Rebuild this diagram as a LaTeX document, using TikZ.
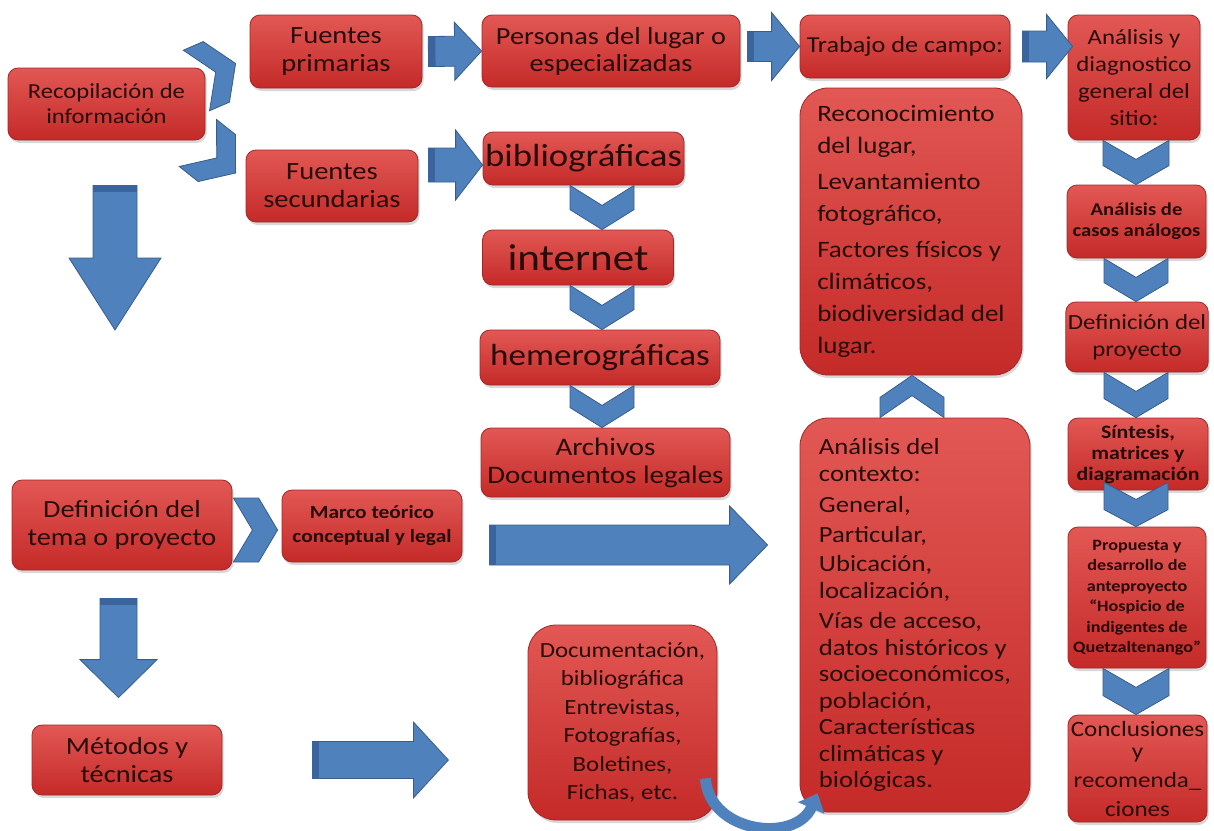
\documentclass[tikz,border=0pt]{standalone}
\usepackage{fontspec}
\setmainfont{Carlito}[FakeStretch=1.15]
\usetikzlibrary{arrows.meta,calc,shadows}

\definecolor{rojoClaro}{RGB}{226,88,84}
\definecolor{rojoOscuro}{RGB}{196,42,40}
\definecolor{bordeCaja}{RGB}{160,40,40}
\definecolor{textoCaja}{RGB}{40,12,12}
\definecolor{azulFlecha}{RGB}{79,129,189}
\definecolor{azulBorde}{RGB}{56,93,138}
\definecolor{azulSombra}{RGB}{58,100,155}

\tikzset{
  caja/.style={draw=bordeCaja, line width=0.8pt, rounded corners=10pt, top color=rojoClaro, bottom color=rojoOscuro,
    text=textoCaja, align=center, inner sep=2pt, drop shadow={shadow xshift=1.5pt, shadow yshift=-3pt, opacity=0.3}},
  cajagrande/.style={caja, rounded corners=28pt},
  flecha/.style={fill=azulFlecha, draw=azulBorde, line width=0.8pt, line join=miter}
}

\newcommand{\flechabloque}[5]{%
  \coordinate (fa) at (#1);
  \coordinate (fb) at (#2);
  \coordinate (fc) at ($(fb)!#5!(fa)$);
  \coordinate (fd) at ($(fa)!7pt!(fb)$);
  \filldraw[flecha] ($(fa)!#3!90:(fb)$) -- ($(fc)!#3!90:(fb)$) -- ($(fc)!#4!90:(fb)$) -- (fb)
    -- ($(fc)!#4!-90:(fb)$) -- ($(fc)!#3!-90:(fb)$) -- ($(fa)!#3!-90:(fb)$) -- cycle;
  \fill[azulSombra] ($(fa)!#3!90:(fb)$) -- ($(fd)!#3!90:(fb)$) -- ($(fd)!#3!-90:(fb)$) -- ($(fa)!#3!-90:(fb)$) -- cycle;
}

\newcommand{\galon}[4]{%
  \coordinate (ga) at (#1);
  \coordinate (gb) at (#2);
  \coordinate (gn) at ($(ga)!#4!(gb)$);
  \coordinate (gm) at ($(gb)!#4!(ga)$);
  \filldraw[flecha] ($(ga)!#3!90:(gb)$) -- (gn) -- ($(ga)!#3!-90:(gb)$) -- ($(gm)!#3!-90:(gb)$) -- (gb)
    -- ($(gm)!#3!90:(gb)$) -- cycle;
}

\begin{document}
\begin{tikzpicture}[x=1pt, y=-1pt, >=Stealth]
  \useasboundingbox (0,0) rectangle (1214,830);
  \fill[white] (0,0) rectangle (1214,830);

  \coordinate (ejeB) at (602,0);
  \coordinate (ejeC) at (912,0);
  \coordinate (ejeD) at (1136,0);

  \node[caja, minimum width=197pt, minimum height=72pt, font=\fontsize{21.4}{25}\selectfont] (recop) at (106.5,104) {Recopilación de\\información};
  \node[caja, minimum width=172pt, minimum height=73pt, font=\fontsize{24.8}{28}\selectfont] (fprim) at (336,51.5) {Fuentes\\primarias};
  \node[caja, minimum width=172pt, minimum height=72pt, font=\fontsize{24.8}{28}\selectfont] (fsec) at (332,186) {Fuentes\\secundarias};
  \node[caja, minimum width=258pt, minimum height=72pt, font=\fontsize{24.6}{27}\selectfont] (personas) at (611,51) {Personas del lugar o\\especializadas};
  \node[caja, minimum width=210pt, minimum height=63pt, font=\fontsize{22.8}{27}\selectfont] (trabajo) at (905,46.5) {Trabajo de campo:};
  \node[caja, minimum width=132pt, minimum height=125pt, font=\fontsize{21.6}{27}\selectfont] (diag) at (1134,77.5) {Análisis y\\diagnostico\\general del\\sitio:};
  \node[caja, minimum width=201pt, minimum height=53pt, font=\fontsize{32}{34}\selectfont] (biblio) at (583.5,158.5) {bibliográficas};
  \node[caja, minimum width=191pt, minimum height=55pt, font=\fontsize{37.5}{40}\selectfont] (internet) at (578,257.5) {internet};
  \node[caja, minimum width=240pt, minimum height=55pt, font=\fontsize{30.5}{34}\selectfont] (hemero) at (600,357.5) {hemerográficas};
  \node[caja, minimum width=249pt, minimum height=69pt, font=\fontsize{25.2}{28}\selectfont] (archivos) at (605.5,462.5) {Archivos\\Documentos legales};
  \node[cajagrande, align=left, minimum width=222pt, minimum height=287pt, font=\fontsize{23.5}{32}\selectfont] (recon) at (911,231.5)
    {Reconocimiento\\del lugar,\\[4pt]Levantamiento\\fotográfico,\\[4pt]Factores físicos y\\climáticos,\\biodiversidad del\\lugar.};
  \node[caja, minimum width=139pt, minimum height=73pt, font=\bfseries\fontsize{18}{21}\selectfont] (casos) at (1136.5,221.5) {Análisis de\\casos análogos};
  \node[caja, minimum width=140pt, minimum height=70pt, font=\fontsize{21.6}{27}\selectfont] (defproy) at (1137,337) {Definición del\\proyecto};
  \node[cajagrande, align=left, minimum width=230pt, minimum height=394pt, font=\fontsize{23.2}{26.5}\selectfont] (contexto) at (915,615)
    {Análisis del\\contexto:\\[5pt]General,\\[3pt]Particular,\\[3pt]Ubicación,\\localización,\\[4pt]Vías de acceso,\\datos históricos y\\socioeconómicos,\\población,\\Características\\climáticas y\\biológicas.};
  \node[caja, minimum width=140pt, minimum height=72pt, font=\bfseries\fontsize{19}{21}\selectfont] (sintesis) at (1138,454) {Síntesis,\\matrices y\\diagramación};
  \node[caja, minimum width=138pt, minimum height=141pt, font=\bfseries\fontsize{15.8}{20.5}\selectfont] (propuesta) at (1137,597.5)
    {Propuesta y\\desarrollo de\\anteproyecto\\``Hospicio de\\indigentes de\\Quetzaltenango''};
  \node[caja, minimum width=139pt, minimum height=107pt, font=\fontsize{21.8}{27}\selectfont] (concl) at (1137.5,768.5) {Conclusiones\\[-5pt]y\\[2pt]recomenda\_\\[2pt]ciones};
  \node[caja, minimum width=220pt, minimum height=90pt, font=\fontsize{24.6}{28}\selectfont] (deftema) at (122,525) {Definición del\\tema o proyecto};
  \node[caja, minimum width=180pt, minimum height=72pt, font=\bfseries\fontsize{18.6}{24}\selectfont] (marco) at (372,526) {Marco teórico\\conceptual y legal};
  \node[caja, minimum width=190pt, minimum height=70pt, font=\fontsize{24.6}{28}\selectfont] (metodos) at (127,760) {Métodos y\\técnicas};
  \node[cajagrande, minimum width=189pt, minimum height=195pt, font=\fontsize{21.6}{28.5}\selectfont] (docu) at (622.5,722.5)
    {Documentación,\\bibliográfica\\Entrevistas,\\Fotografías,\\Boletines,\\Fichas, etc.};

  \galon{$(recop.east)+(-9,-23.5)$}{$(fprim.west)+(-14,12)$}{33pt}{21pt}
  \galon{$(recop.east)+(-7.5,39)$}{$(fsec.west)+(-10,-13)$}{30pt}{24pt}
  \galon{biblio.south -| ejeB}{internet.north -| ejeB}{32pt}{20pt}
  \galon{internet.south -| ejeB}{hemero.north -| ejeB}{32pt}{20pt}
  \galon{hemero.south -| ejeB}{archivos.north -| ejeB}{32pt}{20pt}
  \galon{diag.south -| ejeD}{casos.north -| ejeD}{33pt}{19pt}
  \galon{casos.south -| ejeD}{defproy.north -| ejeD}{32pt}{19pt}
  \galon{defproy.south -| ejeD}{sintesis.north -| ejeD}{32pt}{19pt}
  \galon{$(sintesis.south -| ejeD)+(0,-8)$}{propuesta.north -| ejeD}{32pt}{17pt}
  \galon{propuesta.south -| ejeD}{concl.north -| ejeD}{33pt}{19pt}
  \galon{contexto.north -| ejeC}{recon.south -| ejeC}{32pt}{22pt}
  \galon{$(deftema.east)+(1,5)$}{$(marco.west)+(-4,4)$}{32pt}{19pt}

  \coordinate (finRecop) at (115,330);
  \flechabloque{$(fprim.east)+(6,0)$}{personas.west}{15pt}{29pt}{27pt}
  \flechabloque{$(fsec.east |- biblio.west)+(10,6.5)$}{$(biblio.west)+(0,6.5)$}{17pt}{35pt}{27pt}
  \flechabloque{$(personas.east |- trabajo.west)+(7,0)$}{trabajo.west}{15pt}{34pt}{28pt}
  \flechabloque{$(trabajo.east)+(12,0)$}{$(diag.west |- trabajo.east)+(5,0)$}{15.5pt}{32pt}{26pt}
  \flechabloque{$(recop.south)+(8.5,45)$}{finRecop}{22pt}{46pt}{72pt}
  \flechabloque{$(deftema.south)+(-3.5,28)$}{$(metodos.north)+(-8.5,-27)$}{18.5pt}{38.5pt}{38pt}
  \flechabloque{$(metodos.east)+(90,0)$}{$(metodos.east)+(226,0)$}{18.5pt}{38pt}{35pt}
  \flechabloque{$(marco.east)+(27,19)$}{$(contexto.west |- marco.east)+(-32,19)$}{20pt}{39pt}{38pt}

  \draw[azulFlecha, line width=11pt, -{Triangle[length=16pt, width=28pt]}] ($(docu.south east)+(-12,-42)$)
    .. controls +(4,55) and +(-22,50) .. ($(contexto.south west)+(18,-19)$);
\end{tikzpicture}
\end{document}
